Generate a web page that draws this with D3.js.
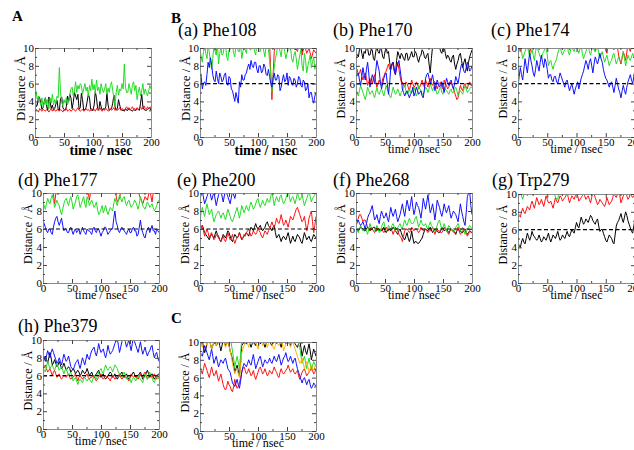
<!DOCTYPE html>
<html>
<head>
<meta charset="utf-8">
<script src="https://cdn.jsdelivr.net/npm/d3@7"></script>
<style>
  body { margin: 0; background: #fff; }
  svg { display: block; }
</style>
</head>
<body>
<svg id="fig" width="634" height="450"></svg>
<script>
// Each trace spans 0-200 ns; frames are evenly spaced over that window
const T_END = 200;
const xTicks = [0, 50, 100, 150, 200];
const xMinor = [25, 75, 125, 175];
const yTicks = [0, 2, 4, 6, 8, 10];
const yMinor = [1, 3, 5, 7, 9];
const CUTOFF = 6; // contact threshold, Å

// ---- A ----
const A_black = [4.3,3.4,3.6,4.6,4.4,3.8,3.1,3.3,4.0,4.4, 3.4,3.0,4.5,4.0,3.2,3.6,3.0,3.2,3.7,4.1, 3.1,3.0,4.3,4.5,3.3,3.1,3.0,3.4,4.6,4.0, 4.8,4.4,3.2,3.9,5.0,4.6,4.2,4.8,3.1,3.3, 4.9,4.2,3.0,3.1,3.3,4.0,4.8,4.4,3.1,3.0, 3.0,3.6,5.1,4.4,3.2,3.0,4.0,3.4,3.0,3.2, 3.1,3.4,4.9,3.6,3.0,3.1,3.2,3.8,4.7,3.4, 3.0,3.2,4.2,3.6,3.1,3.0,3.0,2.9,3.2,3.0, 3.0,3.2,3.1,3.0,2.9,3.1,3.0,3.0,3.2,3.1, 3.0,3.8,4.8,3.4,3.1,3.0,3.0,3.1,3.2,3.3, 3.0];
const A_red   = [2.9,3.1,3.0,2.8,3.2,3.0,2.9,3.1,3.0,2.9, 3.1,3.0,2.8,3.0,3.2,2.9,3.1,3.0,2.9,3.1, 3.0,2.9,3.1,3.0,2.8,3.1,3.0,3.2,2.9,3.0, 3.1,2.9,3.0,3.2,3.0,2.9,3.1,3.3,3.0,2.9, 3.0,3.1,2.9,3.0,3.2,3.0,3.1,2.9,3.0,3.2, 3.0,3.1,2.9,3.2,3.0,3.1,3.3,3.0,2.9,3.1, 3.0,3.2,3.1,2.9,3.0,3.2,3.0,3.1,3.3,3.0, 3.2,3.0,3.1,3.3,3.0,3.2,3.1,3.0,3.2,3.4, 3.1,3.3,3.0,3.2,3.4,3.1,3.2,3.0,3.3,3.1, 3.2,3.4,3.1,3.3,3.5,3.2,3.1,3.4,3.2,3.3, 3.4];
const A_green = [5.6,5.0,4.2,4.6,4.0,3.6,4.4,3.4,3.8,4.5, 3.6,4.2,3.2,4.4,3.8,4.8,3.6,4.2,3.8,4.6, 4.4,7.8,5.0,4.0,3.5,4.2,3.8,4.4,3.6,4.0, 4.8,5.4,5.6,4.6,5.2,6.2,5.0,5.8,5.4,6.0, 5.8,4.8,5.4,6.0,5.2,5.6,4.6,5.8,5.2,6.5, 5.3,5.9,4.9,6.4,5.2,5.6,4.8,6.0,5.4,5.0, 5.4,6.0,4.8,5.5,5.0,5.8,6.2,5.2,4.4,3.6, 5.0,5.8,4.7,5.4,5.2,6.0,5.4,8.2,5.6,5.0, 5.0,6.0,5.4,4.8,5.9,6.2,5.2,5.8,4.2,5.0, 5.6,4.6,5.2,6.0,4.8,5.4,5.0,4.6,5.2,5.8, 5.4];

// ---- (a) Phe108 ----
const a_black = [11,11,10.8,11,11,11,11,11,11,11, 11,11,11,11,11,11,11,11,11,11, 11,11,11,11,11,11,11,11,11,11, 11,11,11,11,10.6,11,11,11,11,10.2, 11,9.8,10.4,11,9.6,10.2,11,9.9,11,10.4, 11];
const a_red   = [10.5,11,9.8,10.6,11,10.2,11,9.6,10.8,11, 10.4,11,10.9,11,10.2,11,11,10.6,11,10.3, 11,10.8,11,11,10.4,11,11,10.7,11,11, 10.5,4.2,9.6,11,10.6,11,10.2,11,10.8,9.8, 11,10.2,9.6,10.8,9.2,10.4,9.4,10.0,8.8,9.8, 9.4];
const a_green = [9.8,9.0,8.4,9.6,10.2,9.4,8.8,10.3,9.6,8.4, 7.6,8.8,10.4,9.6,9.2,10.5,8.2,9.4,10.1,9.2, 9.4,10.3,10.5,9.0,8.6,9.8,9.8,10.6,10.3,9.4, 9.0,10.4,10.6,9.6,9.6,10.5,8.8,9.6,10.2,9.8, 9.4,10.6,10.4,9.8,9.8,10.4,10.6,9.6,9.2,10.5, 10.3,9.6,9.6,10.6,10.5,9.6,9.0,10.4,10.2,9.8, 8.6,7.0,5.0,6.8,7.8,8.8,9.4,10.2,10.2,9.6, 9.0,10.3,10.4,9.6,8.8,9.4,9.8,10.4,10.3,8.8, 8.4,9.2,9.6,8.8,7.6,8.4,9.2,9.8,8.0,7.4, 9.4,8.6,7.2,8.0,8.6,9.2,7.8,8.4,9.0,7.6, 8.2];
const a_blue  = [7.6,6.8,5.4,6.0,6.2,5.8,7.0,8.4,7.8,8.9, 8.2,7.0,6.4,6.2,7.4,6.6,6.0,7.2,6.8,6.2, 6.4,7.0,7.2,6.0,5.8,6.8,6.6,5.4,5.2,4.6, 4.0,5.0,4.4,3.8,6.2,5.6,7.0,6.4,6.4,7.0, 7.2,7.8,8.2,7.6,8.6,8.0,7.8,8.4,8.4,7.6, 7.2,8.0,8.0,7.2,7.4,8.2,7.9,7.0,6.9,7.6, 6.8,6.0,5.6,6.6,7.2,6.4,6.4,7.0,6.8,5.2, 5.6,6.4,7.0,6.2,6.4,7.2,5.8,6.8,6.6,6.0, 5.8,6.6,6.4,5.6,6.0,6.8,6.6,5.8,5.6,6.4, 6.2,5.2,5.4,6.0,4.4,5.0,5.0,4.2,3.8,4.6, 5.0];

// ---- (b) Phe170 ----
const b_black = [9.6,9.2,9.0,9.8,10.2,9.4,8.8,9.6,9.4,10.1, 10.0,9.2,9.2,9.8,9.8,8.8,8.6,9.6,10.2,9.6, 9.4,10.0,9.8,9.0,8.8,9.6,10.1,9.4,9.6,8.4, 7.6,8.2,8.4,7.4,7.0,8.6,9.6,9.2,8.8,9.4, 9.2,8.8,8.6,9.4,9.4,8.6,8.8,9.2,9.6,9.0, 9.0,9.6,9.4,8.8,8.4,9.0,9.2,9.8,9.6,9.0, 8.8,9.2,9.4,8.2,7.2,8.8,10.2,10.6,10.4,11, 11,10.4,10.1,9.6,9.4,10.0,10.2,9.4,8.8,9.2, 9.0,8.6,8.4,9.0,9.2,8.2,7.6,8.2,8.6,9.2, 9.4,8.6,7.8,8.4,8.8,8.0,7.4,8.4,9.0,9.4, 9.8];
const b_red   = [7.4,7.6,7.0,7.2,7.6,6.8,6.4,7.0,7.2,6.6, 5.8,6.2,6.6,6.0,6.0,6.6,7.0,6.2,5.6,6.0, 6.4,6.0,5.8,6.6,6.8,7.2,7.4,7.8,8.2,7.6, 7.6,8.2,8.0,7.4,7.2,7.8,8.4,7.6,6.8,6.2, 6.2,5.8,5.6,6.2,6.0,5.6,5.2,5.8,6.4,6.0, 5.6,5.8,6.2,6.0,5.4,5.6,6.0,6.4,5.8,5.6, 6.4,6.0,5.6,6.2,6.6,6.0,5.8,6.2,6.2,5.8, 5.4,5.8,6.0,6.2,5.6,5.4,6.4,6.0,5.8,5.4, 5.6,6.0,6.2,5.8,5.4,5.0,4.6,4.2,4.4,5.2, 5.8,5.4,5.2,5.8,6.0,5.6,5.4,6.0,6.2,5.8, 5.8];
const b_green = [5.4,5.0,4.6,5.2,5.8,5.4,5.0,4.6,4.2,4.8, 5.6,5.2,4.8,5.0,5.2,4.8,4.4,5.0,5.6,5.0, 4.8,5.2,5.4,5.0,4.6,5.2,5.8,5.4,5.0,4.6, 4.4,5.0,5.6,5.2,4.8,5.0,5.4,5.0,4.6,5.0, 5.2,5.6,5.8,5.2,4.8,5.0,5.4,5.0,5.0,5.4, 5.6,5.2,4.6,5.0,5.8,5.4,5.2,4.8,4.8,5.2, 5.6,5.4,5.0,5.4,6.0,5.6,5.2,5.6,5.8,5.2, 4.8,5.0,5.4,5.6,5.0,4.8,5.6,5.4,5.2,5.0, 4.8,5.2,5.4,5.0,5.0,5.4,5.6,5.2,4.6,5.0, 5.2,5.0,4.8,5.4,5.8,5.4,5.0,5.2,5.4,5.6, 5.6];
const b_blue  = [6.6,7.0,7.2,6.4,5.8,6.8,7.8,7.0,6.4,7.6, 8.4,7.2,5.6,6.2,7.0,6.6,6.0,7.4,8.6,8.0, 7.4,6.2,5.4,6.0,6.6,7.0,7.2,6.0,4.8,6.0, 7.8,8.2,8.4,7.6,7.0,7.8,8.2,8.6,7.6,6.6, 5.4,5.0,4.6,5.0,5.2,4.8,4.4,4.8,5.0,5.6, 4.6,5.0,5.6,5.2,4.8,5.0,5.2,4.6,4.4,5.4, 6.6,7.0,7.2,6.6,6.0,6.4,7.0,6.2,5.2,5.8, 6.4,6.0,5.6,5.8,6.2,5.6,5.0,5.8,6.6,6.2, 5.8,6.2,6.4,5.8,5.4,6.0,6.8,6.4,6.0,6.8, 7.6,8.2,8.0,7.4,7.2,7.8,8.4,8.0,7.4,7.6, 8.0];

// ---- (c) Phe174 ----
const c_black = [11,11,11,10.6,11,11,11,11,11,11, 11,11,11,11,11,10.6,11,11,11,11, 11,11,11,11,11,11,11,11,11,11, 11,10.7,11,11,11,11,11,11,11,11, 11,11,11,11,10.6,11,11,11,11,11, 11];
const c_red   = [10.4,9.6,11,10.2,11,9.4,10.6,11,10.8,9.8, 11,10.4,11,10.6,11,10.2,11,11,10.5,11, 10.6,11,9.8,11,10.4,11,11,10.2,11,10.6, 11,10.4,11,9.6,11,10.8,11,10.2,9.4,11, 10.6,9.8,11,9.2,8.2,9.6,8.6,10.4,9.6,11, 10.2];
const c_green = [9.2,9.8,10.4,9.6,8.8,9.2,9.6,10.1,10.2,9.6, 9.0,9.4,9.8,9.2,8.6,9.6,10.3,9.8,9.4,9.0, 8.8,9.4,9.6,10.0,10.2,9.2,8.0,8.4,8.6,8.0, 7.6,8.2,8.4,8.8,9.4,9.8,10.1,9.6,9.2,9.6, 9.8,10.2,10.4,9.6,9.2,9.8,10.2,9.8,9.6,10.1, 10.5,9.8,9.4,9.9,10.2,9.4,8.8,9.2,9.6,10.0, 10.3,9.6,9.2,9.8,10.4,9.8,9.6,9.9,10.2,9.4, 8.8,9.2,9.6,9.0,8.4,8.8,9.2,8.6,8.0,8.4, 8.6,9.2,9.4,8.8,8.2,8.6,9.0,8.6,8.4,9.0, 9.6,8.8,8.0,8.6,9.2,8.8,8.6,9.0,9.4,9.0, 8.8];
const c_blue  = [5.6,6.8,7.8,7.0,6.4,7.6,8.8,8.0,7.2,8.4, 9.4,8.6,8.0,7.2,6.8,7.6,8.6,8.0,7.4,8.4, 9.2,8.4,7.8,8.8,8.4,7.6,6.6,7.0,7.0,6.4, 6.2,6.8,6.8,6.2,6.0,6.6,7.2,6.8,6.4,6.0, 5.6,6.2,6.4,5.8,5.2,5.6,6.0,5.4,4.8,5.4, 5.8,6.2,5.4,6.0,6.6,7.0,7.4,8.0,8.6,8.2, 7.6,8.4,8.8,8.0,7.2,8.2,9.0,8.6,8.2,8.8, 9.4,8.8,8.4,7.6,7.0,6.6,6.4,6.0,5.6,6.0, 6.2,5.6,5.0,5.8,6.6,6.0,5.4,5.0,4.4,5.2, 5.8,5.2,4.8,5.6,6.2,6.6,7.0,6.4,6.0,6.8, 7.6];

// ---- (d) Phe177 ----
const d_black = [11,11,11,11,10.5,11,11,11,11,11, 11,11,11,11,11,11,11,10.6,11,11, 11,11,11,11,11,11,11,11,11,11, 11,11,10.4,11,11,11,11,11,11,11, 11,11,11,11,11,10.6,11,11,11,11, 11];
const d_red   = [10.6,11,10.4,11,11,8.8,11,10.6,11,10.8, 11,11,10.4,11,11,10.6,11,11,10.4,11, 9.2,11,10.8,11,11,10.6,11,11,10.5,11, 11,10.4,9.0,9.4,11,10.2,11,10.8,11,10.6, 11,10.2,9.4,8.8,9.6,9.2,10.4,9.0,11,10.6, 11];
const d_green = [9.0,8.6,8.2,8.8,9.4,9.0,8.8,9.4,9.8,9.2, 8.4,8.8,9.2,8.8,8.6,8.0,7.6,8.2,8.8,9.2, 9.4,9.0,8.6,9.2,9.6,9.0,8.2,8.6,9.0,9.6, 9.8,9.2,8.4,8.8,9.2,9.6,8.8,8.4,9.6,9.2, 8.6,9.0,9.2,8.8,8.4,8.6,9.0,8.2,7.6,7.8, 8.2,8.6,7.8,8.2,8.6,8.0,7.6,8.0,8.4,8.2, 8.0,8.8,9.4,9.0,8.6,9.2,9.8,9.4,9.0,9.4, 9.6,9.0,8.6,9.0,9.2,8.8,8.4,8.6,8.8,9.2, 9.0,8.6,8.2,8.8,9.6,9.2,8.6,8.4,8.2,8.6, 9.0,8.8,8.4,8.6,8.8,8.4,8.0,8.2,8.6,9.0, 9.2];
const d_blue  = [7.0,6.6,6.2,5.8,5.6,6.0,6.0,5.6,5.4,6.2, 6.8,7.2,7.4,6.8,6.4,6.8,7.2,6.4,5.8,6.0, 6.0,5.6,5.6,6.0,6.2,5.8,5.4,5.8,6.0,5.6, 5.8,6.0,5.4,5.8,6.2,5.8,5.6,5.4,6.0,5.8, 5.8,5.6,5.4,6.0,6.2,5.8,5.6,6.0,6.0,5.6, 5.2,5.6,5.8,6.2,6.2,5.8,5.4,5.6,5.8,6.0, 6.0,7.2,8.0,6.8,6.4,5.8,5.6,6.0,6.2,6.0, 5.8,5.6,5.4,5.8,6.0,5.6,5.6,6.0,6.2,5.8, 5.8,5.2,5.4,6.2,7.0,6.0,5.6,5.2,5.0,5.6, 6.0,6.2,5.6,6.0,6.4,5.8,5.8,5.4,6.0,5.8, 5.6];

// ---- (e) Phe200 ----
const e_black = [6.0,6.2,6.4,6.0,5.6,5.4,5.2,5.0,4.8,5.2, 5.4,5.2,5.0,5.4,5.8,5.4,5.2,4.8,4.6,5.0, 5.4,5.2,5.0,5.4,5.8,5.6,5.2,4.8,4.6,5.0, 5.4,5.2,5.0,5.2,5.6,5.2,4.8,5.0,5.2,5.4, 5.6,5.4,5.2,5.8,6.2,6.0,5.8,6.2,6.6,6.2, 6.0,6.2,6.4,6.0,5.8,6.0,6.2,6.6,6.8,6.4, 6.2,6.0,5.8,6.2,6.4,5.6,5.0,5.2,5.4,5.0, 4.6,5.0,5.2,5.0,4.8,5.2,5.6,5.0,4.4,4.8, 5.2,4.8,4.6,5.0,5.4,5.2,5.0,4.6,4.4,5.0, 5.6,5.2,4.8,5.0,5.2,4.8,4.6,5.0,5.4,5.2, 5.0];
const e_red   = [5.8,6.2,6.4,5.8,5.2,5.6,6.0,5.6,5.0,5.4, 5.6,5.2,4.8,5.0,5.4,5.2,5.0,4.8,4.6,4.9, 5.2,4.8,4.6,5.0,5.6,5.2,4.8,5.0,5.4,4.8, 4.4,4.8,5.0,5.2,5.6,5.2,4.8,5.0,5.4,5.2, 5.6,5.8,6.0,5.6,5.2,5.4,5.8,5.6,5.4,5.6, 6.2,5.8,5.6,5.2,5.0,5.4,5.8,5.6,5.4,5.8, 6.0,6.4,6.8,6.4,6.2,6.6,7.2,6.8,6.6,7.0, 7.6,7.0,6.4,6.6,7.0,6.6,6.2,6.8,7.4,7.2, 7.0,7.4,7.8,8.2,8.4,8.0,7.6,7.2,6.8,7.0, 7.4,6.6,5.8,6.4,7.2,7.6,8.0,6.8,5.6,6.4, 7.4];
const e_green = [7.0,7.8,8.4,7.8,7.4,8.2,8.8,8.2,7.6,7.9, 8.2,7.4,6.8,7.2,7.6,7.8,8.0,7.6,7.2,7.6, 7.8,7.4,7.0,7.6,8.2,7.8,7.4,7.0,6.8,7.2, 7.6,8.0,8.4,7.8,7.2,7.8,8.6,8.2,7.8,8.2, 8.6,8.2,8.0,8.6,9.0,8.6,8.2,8.4,8.8,9.2, 9.4,8.8,8.4,8.8,9.2,8.8,8.6,9.0,9.4,9.0, 9.0,9.6,10.2,9.4,8.6,9.2,9.6,9.2,9.0,9.6, 9.8,9.2,8.8,9.0,9.4,9.8,10.2,9.6,9.0,9.4, 9.6,9.2,8.8,9.4,10.0,9.6,9.2,9.4,9.8,9.2, 8.6,9.0,9.4,9.8,10.2,9.6,9.0,9.4,9.6,9.8, 10.0];
const e_blue  = [9.4,10.2,8.8,9.6,10.4,9.2,10.1,8.6,9.8,10.3, 9.0,10.4,9.6,8.8,10.2,9.4,10.6,11,10.4,11, 11,10.6,11,11,10.8,11,11,10.5,11,11, 11,10.6,11,11,11,10.4,11,11,11,10.8, 11,11,10.6,11,11,11,10.7,11,11,11, 11];

// ---- (f) Phe268 ----
const f_black = [6.0,5.9,5.8,6.0,6.2,6.1,6.0,5.8,5.8,6.0, 6.2,6.0,5.8,5.9,6.0,6.2,6.2,5.8,5.8,6.0, 6.0,5.8,5.8,6.0,6.2,5.8,5.6,5.8,6.0,5.9, 5.8,6.0,6.2,6.0,5.8,5.6,5.4,5.8,6.0,5.6, 5.2,5.0,4.8,5.2,5.6,5.0,4.6,5.0,5.8,5.0, 4.4,4.6,4.6,4.4,4.4,4.6,4.8,5.0,5.4,5.8, 6.0,5.9,5.8,6.0,6.2,5.9,5.6,5.8,6.0,5.8, 5.8,5.6,5.6,5.8,6.2,6.0,5.8,5.9,6.0,5.8, 5.6,5.8,6.0,5.9,5.8,5.6,5.4,5.8,6.0,5.8, 5.8,5.6,5.6,5.8,6.0,5.6,5.4,5.6,5.8,5.7, 5.6];
const f_red   = [6.4,6.8,7.2,7.6,7.6,7.2,6.8,7.0,7.0,6.6, 6.2,6.0,5.8,6.2,6.0,5.8,5.6,5.8,6.2,6.0, 5.8,6.0,6.0,5.8,5.6,5.8,6.2,6.0,5.8,6.0, 6.0,5.8,5.4,5.8,6.2,6.0,5.8,5.4,5.2,5.0, 4.6,5.2,5.8,6.0,6.0,5.8,5.6,5.8,6.2,6.0, 5.8,6.0,6.0,5.8,5.6,5.8,6.2,6.0,5.8,6.0, 6.0,5.8,5.6,5.8,5.8,6.0,6.2,5.8,5.4,5.8, 6.0,5.8,5.8,5.6,5.6,5.8,6.2,6.0,5.8,5.6, 5.4,5.8,6.0,5.8,5.8,5.6,5.6,5.8,6.2,5.8, 5.4,5.6,5.8,6.0,6.0,5.6,5.2,5.4,5.8,5.6, 5.6];
const f_green = [6.0,5.8,5.6,6.0,6.4,6.0,5.8,6.0,6.2,5.8, 5.4,6.0,6.6,6.2,6.0,5.8,5.8,6.0,6.4,6.0, 5.6,5.8,6.2,6.6,6.8,6.2,5.8,6.0,6.4,6.2, 6.0,6.4,6.6,6.2,5.8,6.0,6.2,6.4,6.6,6.2, 6.0,6.6,7.0,6.6,6.4,6.8,7.2,6.8,6.6,6.6, 6.8,7.2,7.4,6.8,6.2,6.6,7.0,6.6,6.4,6.4, 6.6,6.2,6.0,6.4,6.8,6.4,6.2,6.0,5.8,6.0, 6.4,6.8,7.0,6.4,6.0,6.2,6.6,6.2,5.8,6.0, 6.4,6.2,6.0,5.8,5.6,5.8,6.2,6.4,6.6,6.2, 5.8,6.0,6.2,5.8,5.4,5.6,6.0,6.2,6.4,6.2, 6.0];
const f_blue  = [6.2,6.8,7.0,6.6,6.4,6.6,6.8,6.4,6.0,6.6, 7.2,7.6,7.8,8.2,8.6,7.8,7.0,7.2,7.6,7.0, 6.6,7.4,8.0,7.6,7.2,7.4,7.8,7.2,6.8,7.6, 8.4,7.8,7.4,7.8,8.2,7.4,6.8,7.2,7.6,8.2, 8.8,8.0,7.4,8.4,9.2,8.6,8.0,8.8,9.6,8.4, 7.6,8.2,9.0,8.6,8.4,7.8,7.2,8.2,9.4,8.8, 8.2,9.0,9.8,8.8,7.8,8.2,8.8,8.0,7.0,8.0, 9.2,8.8,8.4,7.8,7.4,8.0,8.8,8.2,7.8,8.2, 8.6,7.8,7.2,7.6,8.0,7.8,7.6,7.2,6.8,7.8, 8.8,8.0,7.4,6.8,6.4,7.8,9.6,10.0,10.2,8.6, 7.6];

// ---- (g) Trp279 ----
const g_black = [4.6,4.2,4.0,4.6,5.0,4.6,4.4,5.0,5.6,5.2, 4.8,5.2,5.8,5.4,5.2,5.0,4.8,5.0,5.4,5.0, 4.6,4.8,5.2,5.0,4.8,5.2,5.6,5.0,4.6,5.0, 5.4,5.2,5.0,5.4,5.8,5.2,4.8,5.0,5.4,5.2, 5.0,5.4,5.8,5.4,5.2,5.6,6.0,5.8,5.6,6.2, 6.8,6.4,6.2,6.8,7.4,7.0,6.6,6.8,7.2,7.0, 6.8,7.2,7.6,7.4,7.0,6.8,6.6,7.0,7.2,6.4, 5.8,6.0,6.0,5.6,5.2,4.8,4.6,5.0,5.4,5.2, 5.0,4.6,4.4,5.4,6.4,6.8,7.0,7.4,7.8,7.2, 6.8,7.4,8.0,7.6,7.0,6.6,6.2,5.8,5.6,6.4, 7.2];
const g_red   = [8.0,7.6,7.4,8.0,8.4,8.0,7.8,8.2,8.6,8.4, 8.2,8.8,9.2,8.8,8.4,9.0,9.6,9.2,8.8,9.0, 9.4,9.0,8.6,9.2,9.8,9.4,9.0,9.0,9.2,8.8, 8.4,9.0,9.6,9.2,9.0,9.4,9.8,9.6,9.2,9.4, 9.6,9.8,10.2,9.6,9.0,9.4,9.8,9.6,9.4,9.8, 10.3,9.8,9.2,9.4,9.6,9.8,10.1,9.8,9.4,9.6, 9.8,9.4,9.0,9.6,10.4,10.0,9.6,9.2,8.8,9.0, 9.4,9.2,9.0,8.8,8.6,9.0,9.6,9.2,8.8,9.0, 9.2,9.6,10.2,9.8,9.6,10.0,10.4,9.8,9.0,9.4, 9.8,10.0,10.2,9.8,9.4,9.6,10.1,9.8,9.6,9.8, 10.2];
const g_green = [9.6,10.2,9.4,10.4,9.8,11,11,11,11,11, 11,11,11,11,11,11,9.6,9.4,11,11, 11,11,11,11,11,11,11,11,11,11, 11,11,11,11,11,11,11,11,11,11, 11,11,11,11,11,11,11,11,11,11, 11];

// ---- (h) Phe379 ----
const h_black = [7.6,8.0,8.2,7.8,7.4,8.0,8.6,8.0,7.2,7.4, 7.8,7.4,7.0,7.2,7.6,7.2,6.8,7.0,7.4,7.0, 6.6,6.8,7.0,6.8,6.4,6.6,6.8,6.6,6.2,6.4, 6.6,6.4,6.0,6.2,6.6,6.4,6.2,6.4,6.8,6.4, 6.0,6.2,6.4,6.0,5.8,6.0,6.2,6.4,6.6,6.2, 5.8,6.0,6.2,5.8,5.6,5.8,6.0,6.2,6.4,6.2, 5.8,6.0,6.2,5.8,5.6,5.8,6.0,6.2,6.4,6.0, 5.8,6.0,6.2,5.8,5.6,5.8,6.0,6.2,6.4,6.1, 5.8,5.9,6.0,6.2,6.4,6.0,5.6,5.8,6.0,6.3, 6.6,6.2,5.8,6.0,6.2,5.9,5.6,5.8,6.0,6.1, 6.2];
const h_red   = [6.6,7.0,7.2,6.8,6.4,6.6,6.8,6.4,6.0,6.4, 6.6,6.2,5.8,6.0,6.2,5.8,5.6,5.8,6.0,5.9, 5.8,6.0,6.2,5.8,5.6,5.8,5.8,6.0,6.2,5.8, 5.4,5.8,6.0,5.8,5.6,5.8,5.8,6.0,6.2,5.8, 5.6,5.8,5.8,6.0,6.0,5.6,5.4,5.6,5.8,6.0, 6.2,5.8,5.6,5.8,6.0,5.8,5.8,5.6,5.4,5.8, 6.0,5.8,5.6,5.8,5.8,6.0,6.2,5.8,5.6,5.8, 6.0,5.8,5.8,5.6,5.4,5.8,6.2,6.0,5.8,5.9, 6.0,5.8,5.6,5.9,6.2,6.0,5.8,6.2,6.4,6.0, 5.6,5.8,6.0,5.9,5.8,6.0,6.2,5.9,5.6,5.8, 6.0];
const h_green = [7.0,6.6,6.4,7.0,7.6,7.2,6.8,7.0,7.2,6.8, 6.6,7.0,7.4,7.0,6.6,6.8,7.0,6.6,6.2,6.6, 6.8,6.4,6.0,6.2,6.4,5.8,5.4,5.6,5.8,5.4, 5.0,5.4,5.6,5.4,5.2,5.6,5.8,5.6,5.4,5.6, 5.6,5.4,5.2,5.6,6.0,5.8,5.6,6.0,6.4,6.6, 6.8,6.4,6.2,6.8,7.2,6.8,6.6,6.8,7.0,6.8, 6.4,6.8,7.2,7.0,6.8,6.4,6.2,6.0,5.8,6.2, 6.4,6.0,5.6,5.8,6.0,5.6,5.2,5.6,5.8,5.6, 5.4,5.8,6.0,5.8,5.6,5.4,5.2,5.8,6.2,5.8, 5.6,6.0,6.4,6.0,5.8,5.4,5.2,5.6,6.0,5.8, 5.6];
const h_blue  = [8.4,8.0,7.6,8.2,8.8,8.4,8.0,8.6,9.0,8.6, 8.2,7.8,7.4,7.6,8.0,7.6,7.2,7.8,8.4,8.0, 7.6,7.8,8.2,7.6,7.0,6.8,6.6,7.0,7.4,7.6, 7.8,7.2,6.8,7.4,8.0,7.6,7.2,7.8,8.4,8.0, 7.8,8.4,8.8,9.0,9.2,8.6,8.2,8.8,9.6,9.0, 8.6,8.8,9.0,8.4,8.0,8.6,9.4,8.8,8.4,8.6, 8.8,9.2,9.6,10.0,10.2,9.4,8.6,9.2,9.8,10.2, 10.4,9.8,9.2,9.6,10.0,9.4,8.8,9.6,10.4,9.8, 9.4,9.0,8.6,9.2,9.8,9.0,8.4,8.8,9.2,8.6, 8.2,8.6,8.8,9.2,9.4,8.6,8.0,8.4,8.6,8.0, 7.6];

// ---- C ----
const C_black  = [9.4,9.8,10.2,9.4,8.8,9.2,9.8,10.1,10.4,9.8, 9.2,9.6,10.0,9.8,9.6,9.8,10.2,9.6,9.0,9.6, 10.4,10.0,9.6,9.8,10.2,9.6,9.0,8.6,8.0,7.4, 6.6,7.0,7.4,6.8,6.2,7.6,9.6,9.8,10.2,9.9, 9.8,10.1,10.4,9.8,9.4,9.8,10.2,9.8,9.6,10.1, 10.6,10.2,9.8,10.0,10.2,9.8,9.4,9.8,10.4,10.2, 10.0,9.8,9.6,10.0,10.4,10.1,9.8,10.0,10.2,9.8, 9.4,10.0,10.6,10.2,9.8,10.0,10.2,9.8,9.6,10.0, 10.4,10.0,9.8,9.6,9.4,9.8,10.2,9.4,8.4,9.0, 9.6,9.0,8.6,9.2,9.8,9.0,8.0,8.6,9.2,8.8, 8.4];
const C_red    = [7.2,6.8,6.4,7.0,7.6,7.2,6.8,6.4,6.0,6.6, 7.2,6.6,6.2,6.4,6.8,6.2,5.6,6.0,6.4,5.8, 5.2,4.8,4.6,5.0,5.6,5.2,5.0,4.6,4.4,5.0, 5.8,5.2,4.8,5.0,5.4,6.0,6.6,7.0,7.2,6.8, 6.4,6.6,7.0,6.6,6.2,6.4,6.8,6.2,5.8,6.2, 6.6,7.0,7.2,6.8,6.4,6.6,7.0,6.6,6.2,6.4, 6.8,6.6,6.4,6.8,7.2,6.8,6.6,6.2,6.0,6.6, 7.0,6.6,6.4,6.6,6.8,7.0,7.4,7.0,6.6,6.8, 7.0,6.6,6.4,6.6,6.8,6.2,5.8,6.2,6.6,6.8, 7.0,6.6,6.2,6.4,6.6,6.8,7.2,6.8,6.4,6.6, 7.0];
const C_green  = [11,11,11,11,11,11,11,11,11,11, 11,11,11,10.6,9.0,7.2,8.4,7.0,10.4,11, 11,11,11,11,11,11,11,11,11,11, 11,11,10.4,11,11,11,10.6,11,11,11, 11,11,10.2,9.4,7.6,8.4,7.0,8.2,6.8,7.8, 7.2];
const C_blue   = [9.0,8.6,8.4,9.0,9.6,9.2,8.8,8.4,8.0,8.6, 9.2,8.4,7.6,8.0,8.4,7.8,7.2,7.6,8.0,7.8, 7.6,8.0,8.2,7.6,7.0,6.8,6.6,6.0,5.4,5.2, 5.0,5.4,5.8,5.2,4.8,5.6,6.6,7.2,7.6,7.4, 7.2,7.6,8.0,7.6,7.4,8.0,8.6,7.8,7.0,7.4, 7.8,8.2,8.4,7.8,7.2,7.6,8.0,7.8,7.6,7.8, 8.2,7.8,7.6,8.0,8.4,8.0,7.8,8.2,8.6,8.0, 7.4,7.8,8.2,8.4,8.8,8.2,7.8,8.0,8.4,8.0, 7.6,8.0,8.2,7.6,7.0,6.6,6.2,5.8,5.4,5.8, 6.0,5.6,5.2,5.6,5.8,5.2,4.8,5.0,5.4,5.2, 5.0];
const C_orange = [10.2,9.8,9.4,10.0,10.6,10.0,9.6,10.0,10.4,9.8, 9.2,9.6,10.0,9.8,9.6,10.0,10.4,10.0,9.8,10.0, 10.2,9.8,9.4,9.8,10.4,9.6,9.0,8.4,7.6,7.0, 6.4,6.8,7.0,6.4,6.0,7.4,8.8,9.2,9.6,9.8, 10.2,9.8,9.4,10.0,10.6,10.2,9.8,10.0,10.2,9.6, 9.2,9.8,10.4,10.0,9.6,9.8,10.2,9.8,9.4,9.8, 10.4,10.0,9.8,9.4,9.2,9.6,10.2,9.8,9.6,10.0, 10.4,9.8,9.0,9.4,9.8,10.0,10.2,9.8,9.4,9.8, 10.0,9.6,9.2,8.8,8.4,8.0,7.6,7.8,8.2,7.6, 7.0,7.4,7.8,7.2,6.6,7.0,7.4,7.0,6.8,7.2, 7.6];

const colors = { black: "#000000", red: "#ff1010", green: "#22dd22", blue: "#1010ff", orange: "#ffb000" };
const SERIF = "Liberation Serif";

// Panel layout: plot rectangle, title placement, series drawn in order
const panels = [
  { x0: 35,  x1: 151, y0: 48,  y1: 137, boldLabels: true,  cutoff: false, title: null,
    series: [[A_black, "black"], [A_red, "red"], [A_green, "green"]] },
  { x0: 200, x1: 316, y0: 48,  y1: 137, boldLabels: true,  cutoff: true, title: "(a) Phe108", tx: 178, ty: 36,
    series: [[a_black, "black"], [a_red, "red"], [a_green, "green"], [a_blue, "blue"]] },
  { x0: 356, x1: 472, y0: 48,  y1: 137, boldLabels: false, cutoff: true, title: "(b) Phe170", tx: 333, ty: 36,
    series: [[b_black, "black"], [b_red, "red"], [b_green, "green"], [b_blue, "blue"]] },
  { x0: 518, x1: 635, y0: 48,  y1: 137, boldLabels: false, cutoff: true, title: "(c) Phe174", tx: 491, ty: 36,
    series: [[c_black, "black"], [c_red, "red"], [c_green, "green"], [c_blue, "blue"]] },
  { x0: 43,  x1: 159, y0: 193, y1: 283, boldLabels: false, cutoff: true, title: "(d) Phe177", tx: 18, ty: 186,
    series: [[d_black, "black"], [d_red, "red"], [d_green, "green"], [d_blue, "blue"]] },
  { x0: 200, x1: 316, y0: 193, y1: 283, boldLabels: false, cutoff: true, title: "(e) Phe200", tx: 177, ty: 186,
    series: [[e_black, "black"], [e_red, "red"], [e_green, "green"], [e_blue, "blue"]] },
  { x0: 356, x1: 472, y0: 193, y1: 283, boldLabels: false, cutoff: true, title: "(f) Phe268", tx: 333, ty: 186,
    series: [[f_black, "black"], [f_red, "red"], [f_green, "green"], [f_blue, "blue"]] },
  { x0: 518, x1: 635, y0: 194, y1: 283, boldLabels: false, cutoff: true, title: "(g) Trp279", tx: 492, ty: 186,
    series: [[g_black, "black"], [g_red, "red"], [g_green, "green"]] },
  { x0: 43,  x1: 159, y0: 340, y1: 429, boldLabels: false, cutoff: true, title: "(h) Phe379", tx: 18, ty: 332,
    series: [[h_black, "black"], [h_red, "red"], [h_green, "green"], [h_blue, "blue"]] },
  { x0: 200, x1: 316, y0: 342, y1: 431, boldLabels: false, cutoff: false, title: null,
    series: [[C_black, "black"], [C_red, "red"], [C_green, "green"], [C_blue, "blue"], [C_orange, "orange"]] }
];

const svg = d3.select("#fig");
const defs = svg.append("defs");

function styleAxis(g, showText) {
  g.attr("font-size", 11).attr("font-family", null);
  g.select(".domain").attr("stroke", "#8a8a8a").attr("stroke-width", 1);
  g.selectAll(".tick line").attr("stroke", "#444").attr("stroke-width", 1);
  g.selectAll(".tick text").attr("fill", "#000");
  if (!showText) g.selectAll(".tick text").remove();
}

panels.forEach((p, i) => {
  const x = d3.scaleLinear().domain([0, T_END]).range([p.x0, p.x1]);
  const y = d3.scaleLinear().domain([0, 10]).range([p.y1, p.y0]);
  const panel = svg.append("g").attr("class", "panel");

  defs.append("clipPath").attr("id", "plot-clip-" + i)
    .append("rect")
    .attr("x", p.x0).attr("y", p.y0)
    .attr("width", p.x1 - p.x0).attr("height", p.y1 - p.y0);

  // traces (frames evenly spaced from 0 to T_END)
  const traces = panel.append("g").attr("clip-path", `url(#plot-clip-${i})`);
  p.series.forEach(([vals, col]) => {
    const step = T_END / (vals.length - 1);
    const line = d3.line().x((d, j) => x(j * step)).y(d => y(d));
    traces.append("path")
      .attr("d", line(vals))
      .attr("fill", "none")
      .attr("stroke", colors[col])
      .attr("stroke-width", 1)
      .attr("stroke-linejoin", "round");
  });
  if (p.cutoff) {
    traces.append("line")
      .attr("x1", x(0)).attr("x2", x(T_END))
      .attr("y1", y(CUTOFF)).attr("y2", y(CUTOFF))
      .attr("stroke", "#000").attr("stroke-width", 1.2)
      .attr("stroke-dasharray", "4,2.5");
  }

  // frame with inward ticks on all four sides
  panel.append("g").attr("transform", `translate(0,${p.y1})`)
    .call(d3.axisBottom(x).tickValues(xTicks).tickSizeInner(-4).tickSizeOuter(0).tickPadding(1.5))
    .call(g => styleAxis(g, true));
  panel.append("g").attr("transform", `translate(0,${p.y1})`)
    .call(d3.axisBottom(x).tickValues(xMinor).tickSizeInner(-2).tickSizeOuter(0).tickFormat(""))
    .call(g => { styleAxis(g, false); g.select(".domain").remove(); });
  panel.append("g").attr("transform", `translate(0,${p.y0})`)
    .call(d3.axisTop(x).tickValues(xTicks).tickSizeInner(-4).tickSizeOuter(0).tickFormat(""))
    .call(g => styleAxis(g, false));
  panel.append("g").attr("transform", `translate(0,${p.y0})`)
    .call(d3.axisTop(x).tickValues(xMinor).tickSizeInner(-2).tickSizeOuter(0).tickFormat(""))
    .call(g => { styleAxis(g, false); g.select(".domain").remove(); });
  panel.append("g").attr("transform", `translate(${p.x0},0)`)
    .call(d3.axisLeft(y).tickValues(yTicks).tickSizeInner(-4).tickSizeOuter(0).tickPadding(1))
    .call(g => styleAxis(g, true));
  panel.append("g").attr("transform", `translate(${p.x0},0)`)
    .call(d3.axisLeft(y).tickValues(yMinor).tickSizeInner(-2).tickSizeOuter(0).tickFormat(""))
    .call(g => { styleAxis(g, false); g.select(".domain").remove(); });
  panel.append("g").attr("transform", `translate(${p.x1},0)`)
    .call(d3.axisRight(y).tickValues(yTicks).tickSizeInner(-4).tickSizeOuter(0).tickFormat(""))
    .call(g => styleAxis(g, false));
  panel.append("g").attr("transform", `translate(${p.x1},0)`)
    .call(d3.axisRight(y).tickValues(yMinor).tickSizeInner(-2).tickSizeOuter(0).tickFormat(""))
    .call(g => { styleAxis(g, false); g.select(".domain").remove(); });

  // axis titles
  const plotMidX = (p.x0 + p.x1) / 2;
  panel.append("text")
    .attr("x", p.boldLabels ? plotMidX + 8 : plotMidX)
    .attr("y", p.y1 + (p.boldLabels ? 18 : 16))
    .attr("text-anchor", "middle")
    .attr("font-size", p.boldLabels ? 14 : 12)
    .attr("font-weight", p.boldLabels ? "bold" : "normal")
    .text("time / nsec");
  const cy = (p.y0 + p.y1) / 2 - 4;
  panel.append("text")
    .attr("transform", `translate(${p.x0 - 15},${cy}) rotate(-90)`)
    .attr("text-anchor", "middle")
    .attr("dominant-baseline", "central")
    .attr("font-size", p.boldLabels ? 13 : 12)
    .text("Distance / Å");

  if (p.title) {
    panel.append("text")
      .attr("x", p.tx).attr("y", p.ty)
      .attr("font-size", 18)
      .text(p.title);
  }
});

// section letters
[["A", 12, 21], ["B", 171, 23], ["C", 171, 323]].forEach(([t, lx, ly]) => {
  svg.append("text")
    .attr("x", lx).attr("y", ly)
    .attr("font-size", 15)
    .attr("font-weight", "bold")
    .text(t);
});

// every label uses the serif face
svg.selectAll("text").style("font-family", SERIF);
</script>
</body>
</html>
